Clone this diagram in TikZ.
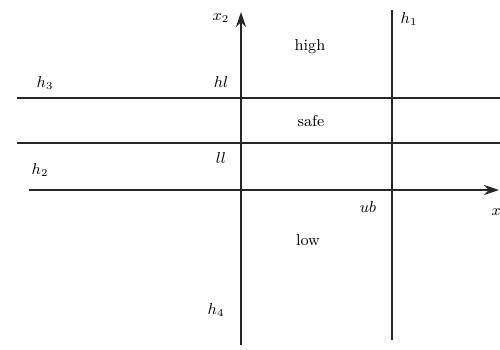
\documentclass[tikz,border=0pt]{standalone}
\usepackage{amsmath,amssymb}
\usepackage{tikz}
\usetikzlibrary{positioning,arrows.meta}
\tikzset{
  bound/.style={line width=1.3pt, black!85},
  axisline/.style={line width=1pt, black!85, -{Stealth[length=3mm,width=2mm]}},
  lab/.style={font=\small, inner sep=1pt},
  reg/.style={font=\small, inner sep=1pt},
}
\begin{document}
\begin{tikzpicture}[x=0.02cm, y=-0.02cm]
    \useasboundingbox (0,0) rectangle (500,349);
    % end points of the lines
    \coordinate (x2bot) at (241,345);
    \coordinate (x2top) at (241,12);
    \coordinate (h1top) at (392,10);
    \coordinate (h1bot) at (392,340);
    \coordinate (h3l) at (17,98);
    \coordinate (h3r) at (500,98);
    \coordinate (h2l) at (17,143);
    \coordinate (h2r) at (500,143);
    \coordinate (x1l) at (29,190);
    \coordinate (x1r) at (499,190);
    % lines
    \draw[bound] (h3l) -- (h3r);
    \draw[bound] (h2l) -- (h2r);
    \draw[axisline, line width=0.8pt] (x1l) -- (x1r);
    \draw[axisline] (x2bot) -- (x2top);
    \draw[bound] (h1top) -- (h1bot);
    % labels
    \node[lab] (lx2) at (221,18) {$x_2$};
    \node[lab] (lx1) at (500,213) {$x_1$};
    \node[lab] (lh1) at (409,19) {$h_1$};
    \node[lab] (lh3) at (45,83) {$h_3$};
    \node[lab] (lh2) at (40,170) {$h_2$};
    \node[lab] (lh4) at (216,310) {$h_4$};
    \node[lab] (lhl) at (221,82) {$hl$};
    \node[lab] (lll) at (221,158) {$ll$};
    \node[lab] (lub) at (368,207) {$ub$};
    \node[reg] (high) at (310,47) {high};
    \node[reg] (safe) at (311,121) {safe};
    \node[reg] (low) at (308,240) {low};
\end{tikzpicture}
\end{document}
